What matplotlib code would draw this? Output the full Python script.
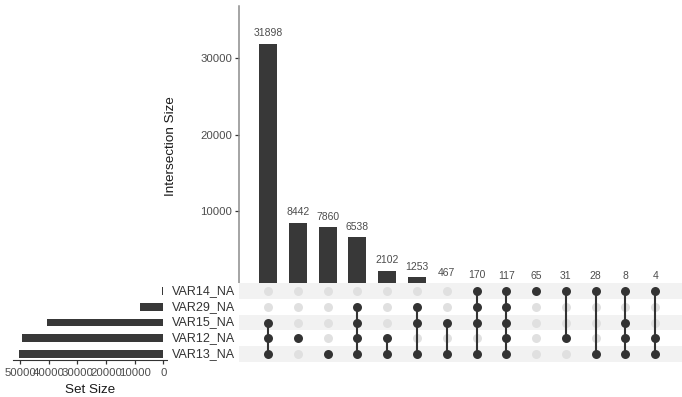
import numpy as np
import matplotlib
matplotlib.use('Agg')
import matplotlib.pyplot as plt

plt.rcParams['font.family'] = ['Liberation Sans', 'DejaVu Sans']

# data
set_names = ['VAR14_NA', 'VAR29_NA', 'VAR15_NA', 'VAR12_NA', 'VAR13_NA']
set_sizes = [423, 8078, 40451, 49310, 50445]
inter_sizes = [31898, 8442, 7860, 6538, 2102, 1253, 467, 170, 117, 65, 31, 28, 8, 4]
# membership per intersection, rows in the order of set_names
members = [
    ['VAR15_NA', 'VAR12_NA', 'VAR13_NA'],
    ['VAR12_NA'],
    ['VAR13_NA'],
    ['VAR29_NA', 'VAR15_NA', 'VAR12_NA', 'VAR13_NA'],
    ['VAR12_NA', 'VAR13_NA'],
    ['VAR29_NA', 'VAR15_NA', 'VAR13_NA'],
    ['VAR15_NA', 'VAR13_NA'],
    ['VAR14_NA', 'VAR29_NA', 'VAR15_NA', 'VAR13_NA'],
    ['VAR14_NA', 'VAR29_NA', 'VAR15_NA', 'VAR12_NA', 'VAR13_NA'],
    ['VAR14_NA'],
    ['VAR14_NA', 'VAR12_NA'],
    ['VAR14_NA', 'VAR13_NA'],
    ['VAR14_NA', 'VAR15_NA', 'VAR12_NA', 'VAR13_NA'],
    ['VAR14_NA', 'VAR12_NA', 'VAR13_NA'],
]
y_ticks = [0, 10000, 20000, 30000]
set_ticks = [0, 10000, 20000, 30000, 40000, 50000]

W, H = 682, 397
bar_col = '#383838'
txt_col = '#4D4D4D'

def frac(x0, y0, x1, y1):
    # pixel box -> figure fraction
    return [x0 / W, 1 - y1 / H, (x1 - x0) / W, (y1 - y0) / H]

fig = plt.figure(figsize=(W / 100, H / 100), dpi=100)

# intersection size bars
ax = fig.add_axes(frac(239, 5.7, 682, 287))
n = len(inter_sizes)
xs = np.arange(n)
ax.bar(xs, inter_sizes, width=0.6, color=bar_col)
for x, v in zip(xs, inter_sizes):
    ax.annotate(str(v), (x, v), xytext=(0, 4), textcoords='offset points',
                ha='center', va='bottom', fontsize=7.5, color=txt_col)
ax.set_xlim(-0.974, 13.9)
ax.set_ylim(0, 36916)
ax.set_yticks(y_ticks)
ax.set_yticklabels([str(t) for t in y_ticks], fontsize=8.2, color=txt_col)
ax.set_xticks([])
for s in ['top', 'right', 'bottom']:
    ax.spines[s].set_visible(False)
ax.spines['left'].set_color('#8C8C8C')
ax.spines['left'].set_linewidth(1.1)
ax.tick_params(axis='y', length=3, width=0.9, color='#333333', pad=2)
ax.set_ylabel('Intersection Size', fontsize=9.7, color='#1A1A1A', labelpad=17)

# matrix (white patch hides the bottom of the 0 label, as in the source)
mx = fig.add_axes(frac(168, 283, 682, 362))
mx.set_zorder(5)
mx.set_facecolor('white')
mx.set_xlim(-3.36, 13.9)
mx.set_ylim(4.5, -0.5)
for i in range(len(set_names)):
    if i % 2 == 0:
        mx.fill_between([-0.974, 13.9], i - 0.5, i + 0.5, color='#F2F2F2', lw=0)
    mx.text(-3.22, i, set_names[i], ha='left', va='center', fontsize=9, color='#333333')
for j, mem in enumerate(members):
    rows = [set_names.index(m) for m in mem]
    off = [i for i in range(len(set_names)) if i not in rows]
    mx.scatter([j] * len(off), off, s=42, color='#E0E0E0', lw=0, zorder=2)
    if len(rows) > 1:
        mx.plot([j, j], [min(rows), max(rows)], color='#333333', lw=1.5, zorder=3)
    mx.scatter([j] * len(rows), rows, s=42, color='#333333', lw=0, zorder=4)
mx.set_xticks([])
mx.set_yticks([])
for s in mx.spines.values():
    s.set_visible(False)

# set size bars
sx = fig.add_axes(frac(13, 283, 167, 360))
sx.barh(range(len(set_names)), set_sizes, height=0.5, color=bar_col)
sx.set_xlim(52440, -1290)
sx.set_ylim(4.37, -0.5)
sx.set_yticks([])
sx.set_xticks(set_ticks)
sx.set_xticklabels([str(t) for t in set_ticks], fontsize=8.2, color=txt_col)
for s in ['top', 'right', 'left']:
    sx.spines[s].set_visible(False)
sx.spines['bottom'].set_color('#333333')
sx.tick_params(axis='x', length=3, width=0.9, color='#333333', pad=3)
sx.set_xlabel('Set Size', fontsize=9.7, color='#1A1A1A', labelpad=4)
sx.patch.set_alpha(0)

fig.savefig('out.png', dpi=100)
